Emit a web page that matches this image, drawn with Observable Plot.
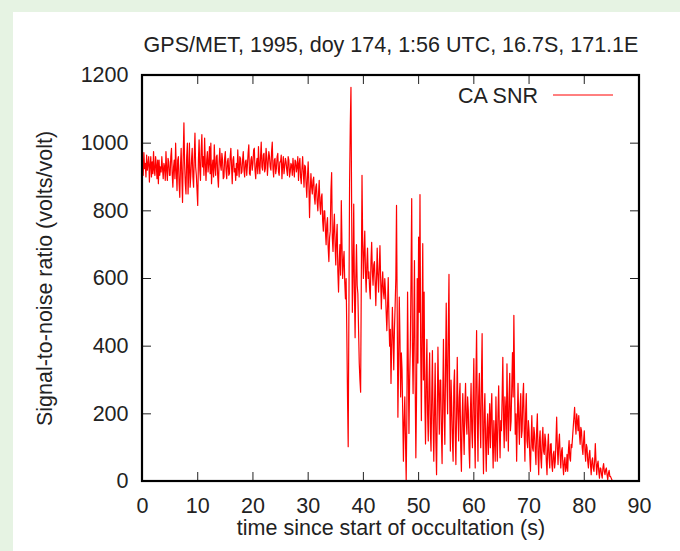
<!DOCTYPE html>
<html>
<head>
<meta charset="utf-8">
<script src="https://cdn.jsdelivr.net/npm/d3@7"></script>
<script src="https://cdn.jsdelivr.net/npm/@observablehq/plot@0.6"></script>
<style>
  html, body { margin: 0; padding: 0; background: #e6f3e3; }
  #wrap { position: absolute; left: 13px; top: 12px; right: 0; bottom: 0; background: #fff; }
  svg { display: block; }
</style>
</head>
<body>
<div id="wrap"></div>
<script>
// CA SNR (volts/volt), sampled every 0.125 s from t = 0 s (one row = 1 s)
const sampleStep = 0.125;
const snr = [
  950, 905, 972, 925, 940, 900, 965, 920,
  940, 960, 885, 935, 960, 900, 945, 910,
  975, 920, 905, 960, 935, 895, 950, 880,
  950, 905, 930, 915, 960, 925, 895, 940,
  930, 890, 975, 920, 890, 955, 945, 905,
  905, 960, 985, 910, 870, 930, 950, 895,
  1000, 920, 860, 950, 960, 880, 840, 930,
  985, 900, 825, 960, 1060, 940, 880, 850,
  960, 1000, 850, 920, 1000, 870, 905, 950,
  985, 900, 870, 960, 1030, 930, 905, 860,
  816, 950, 1010, 920, 890, 980, 1025, 930,
  960, 905, 1015, 940, 890, 950, 975, 915,
  940, 990, 910, 1000, 880, 930, 950, 900,
  995, 930, 905, 960, 965, 900, 870, 945,
  985, 935, 920, 970, 950, 895, 900, 955,
  975, 920, 895, 945, 955, 905, 910, 960,
  985, 930, 880, 950, 960, 915, 925, 890,
  940, 905, 980, 930, 900, 960, 955, 910,
  915, 950, 975, 920, 900, 945, 950, 905,
  935, 970, 995, 910, 905, 950, 960, 920,
  940, 980, 985, 920, 895, 940, 955, 910,
  990, 935, 910, 960, 1003, 930, 920, 965,
  970, 915, 925, 985, 960, 905, 940, 975,
  960, 930, 920, 975, 1003, 925, 900, 950,
  955, 910, 925, 960, 970, 915, 905, 945,
  945, 965, 895, 935, 960, 910, 930, 955,
  945, 920, 905, 960, 950, 900, 915, 940,
  935, 905, 955, 925, 900, 950, 945, 915,
  930, 960, 890, 940, 955, 900, 880, 925,
  960, 915, 870, 935, 930, 880, 840, 900,
  945, 880, 780, 860, 910, 870, 850, 890,
  900, 840, 820, 870, 880, 830, 800, 850,
  890, 820, 790, 840, 850, 770, 740, 800,
  800, 740, 700, 760, 780, 690, 650, 720,
  740, 860, 913, 720, 680, 750, 790, 700,
  640, 720, 760, 620, 560, 650, 700, 610,
  830, 700, 600, 650, 680, 590, 540, 600,
  437, 250, 103, 500, 880, 1050, 1165, 800,
  500, 620, 820, 560, 425, 600, 700, 580,
  555, 450, 350, 300, 264, 600, 905, 700,
  600, 680, 740, 620, 560, 640, 690, 600,
  620, 570, 540, 650, 707, 620, 580, 640,
  650, 590, 520, 600, 690, 610, 560, 630,
  697, 600, 510, 580, 620, 560, 540, 600,
  560, 500, 446, 520, 603, 480, 400, 450,
  290, 400, 515, 430, 330, 450, 520, 600,
  816, 500, 190, 350, 545, 420, 250, 380,
  330, 200, 60, 180, 250, 120, 3, 200,
  560, 350, 142, 300, 400, 600, 836, 400,
  260, 450, 653, 300, 70, 250, 600, 350,
  722, 500, 848, 400, 180, 450, 703, 300,
  560, 250, 111, 300, 420, 200, 120, 280,
  380, 150, 90, 250, 387, 180, 60, 220,
  350, 120, 20, 200, 397, 260, 140, 300,
  300, 150, 53, 250, 420, 200, 110, 330,
  527, 300, 200, 450, 612, 250, 90, 300,
  220, 120, 60, 280, 330, 150, 50, 200,
  367, 200, 120, 250, 290, 100, 30, 180,
  260, 150, 80, 220, 290, 180, 140, 250,
  210, 100, 40, 200, 290, 150, 100, 250,
  363, 150, 40, 300, 446, 200, 60, 250,
  320, 180, 100, 300, 437, 150, 23, 200,
  260, 120, 30, 150, 200, 80, 150, 230,
  100, 200, 260, 120, 40, 180, 120, 60,
  250, 130, 60, 200, 283, 150, 70, 180,
  150, 250, 367, 180, 100, 250, 210, 120,
  348, 200, 90, 250, 320, 150, 180, 280,
  381, 250, 491, 300, 140, 200, 60, 180,
  290, 180, 110, 220, 260, 130, 150, 250,
  290, 150, 60, 200, 260, 120, 100, 180,
  150, 80, 30, 120, 195, 100, 90, 160,
  140, 90, 50, 150, 200, 80, 20, 120,
  150, 70, 40, 120, 160, 90, 80, 140,
  120, 60, 20, 100, 140, 70, 40, 110,
  112, 50, 30, 80, 90, 40, 60, 120,
  190, 100, 50, 110, 140, 80, 40, 90,
  100, 50, 20, 60, 71, 30, 40, 80,
  30, 90, 121, 70, 60, 110, 100, 130,
  160, 190, 219, 170, 140, 200, 180, 150,
  195, 140, 110, 160, 150, 100, 80, 120,
  150, 90, 60, 110, 100, 60, 40, 80,
  92, 50, 20, 60, 70, 40, 30, 60,
  112, 60, 20, 50, 60, 30, 10, 40,
  38, 20, 10, 40, 53, 30, 20, 35,
  40, 20, 5, 25, 33, 15, 15, 10,
  5
];
const xTicks = [0, 10, 20, 30, 40, 50, 60, 70, 80, 90];
const yTicks = [0, 200, 400, 600, 800, 1000, 1200];
const titleText = "GPS/MET, 1995, doy 174, 1:56 UTC, 16.7S, 171.1E";
const xLabel = "time since start of occultation (s)";
const yLabel = "Signal-to-noise ratio (volts/volt)";
const seriesName = "CA SNR";

const data = snr.map((v, i) => ({t: i * sampleStep, v}));

const W = 667, H = 539;
const mL = 129, mR = 41, mT = 63, mB = 70;
const fw = W - mL - mR, fh = H - mT - mB;
const tickLen = 9;
const ink = "#222";

const frameMark = (index, scales, values, dims) => {
  const g = d3.create("svg:g");
  g.append("rect")
    .attr("x", dims.marginLeft).attr("y", dims.marginTop)
    .attr("width", dims.width - dims.marginLeft - dims.marginRight)
    .attr("height", dims.height - dims.marginTop - dims.marginBottom)
    .attr("fill", "none").attr("stroke", "#000").attr("stroke-width", 2.2);
  return g.node();
};

const legendMark = (index, scales, values, dims) => {
  const g = d3.create("svg:g");
  const right = dims.width - dims.marginRight;
  const y = dims.marginTop + 20;
  g.append("line")
    .attr("x1", right - 86).attr("x2", right - 26)
    .attr("y1", y).attr("y2", y)
    .attr("stroke", "red").attr("stroke-width", 1);
  g.append("text")
    .attr("x", right - 101).attr("y", y)
    .attr("text-anchor", "end").attr("dy", "0.35em")
    .attr("fill", ink)
    .text(seriesName);
  return g.node();
};

const chart = Plot.plot({
  width: W, height: H,
  marginLeft: mL, marginRight: mR, marginTop: mT, marginBottom: mB,
  style: {fontFamily: "'Liberation Sans', Arial, Helvetica, sans-serif", fontSize: "21.5px", color: ink, background: "white"},
  x: {domain: [0, 90]},
  y: {domain: [0, 1200]},
  marks: [
    Plot.line(data, {x: "t", y: "v", stroke: "red", strokeWidth: 1.2}),
    Plot.tickX(xTicks, {x: d => d, insetTop: fh - tickLen, stroke: ink}),
    Plot.tickX(xTicks, {x: d => d, insetBottom: fh - tickLen, stroke: ink}),
    Plot.tickY(yTicks, {y: d => d, insetRight: fw - tickLen, stroke: ink}),
    Plot.tickY(yTicks, {y: d => d, insetLeft: fw - tickLen, stroke: ink}),
    frameMark,
    Plot.axisX({ticks: xTicks, tickSize: 0, tickPadding: 16, label: null, tickFormat: d => String(d)}),
    Plot.axisY({ticks: yTicks, tickSize: 0, tickPadding: 14, label: null, tickFormat: d => String(d)}),
    Plot.text([titleText], {frameAnchor: "top", dy: -30, lineAnchor: "middle", textAnchor: "middle", text: d => d, fill: ink}),
    Plot.text([xLabel], {frameAnchor: "bottom", dy: 47, lineAnchor: "middle", textAnchor: "middle", text: d => d, fill: ink}),
    Plot.text([yLabel], {frameAnchor: "left", dx: -97, rotate: -90, lineAnchor: "middle", textAnchor: "middle", text: d => d, fill: ink}),
    legendMark
  ]
});
document.getElementById("wrap").appendChild(chart);
</script>
</body>
</html>
